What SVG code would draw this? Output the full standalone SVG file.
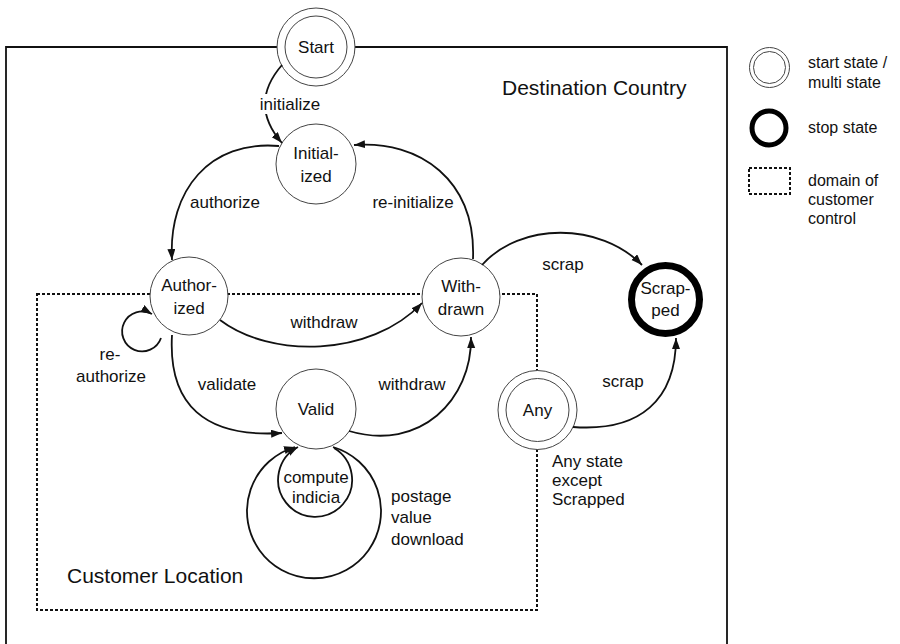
<svg xmlns="http://www.w3.org/2000/svg" width="900" height="644" viewBox="0 0 900 644">
  <style>
    text { font-family: "Liberation Sans", Arial, sans-serif; fill: #111; }
    .node { font-size: 17px; text-anchor: middle; }
    .lbl { font-size: 17px; }
    .mid { text-anchor: middle; }
    .area { font-size: 21px; }
    .legend { font-size: 16px; }
    .state { fill: #fff; stroke: #444; stroke-width: 1; }
    .stop { fill: #fff; stroke: #000; stroke-width: 7; }
    .frame { fill: none; stroke: #111; stroke-width: 1.8; }
    .domain { fill: none; stroke: #111; stroke-width: 2; stroke-dasharray: 3 2; }
    .edge { fill: none; stroke: #111; stroke-width: 1.8; marker-end: url(#arrow); }
  </style>
  <defs>
    <marker id="arrow" markerUnits="userSpaceOnUse" markerWidth="12" markerHeight="10" refX="11" refY="4" orient="auto">
      <path d="M0,0 L11,4 L0,8 Z" fill="#111"/>
    </marker>
  </defs>

  <rect width="900" height="644" fill="#fff"/>

  <!-- Destination country frame (open at the bottom) -->
  <path class="frame" d="M6,650 V47 H727 V650"/>
  <text class="area" x="502" y="95">Destination Country</text>

  <!-- Customer domain -->
  <path class="domain" d="M37,294 H537 V610 H37 Z"/>
  <text class="area" x="67" y="583">Customer Location</text>

  <!-- States -->
  <g id="start">
    <circle class="state" cx="316" cy="47" r="39"/>
    <circle class="state" cx="316" cy="47" r="31"/>
    <text class="node" x="316" y="53">Start</text>
  </g>
  <g id="initialized">
    <circle class="state" cx="316" cy="164" r="40"/>
    <text class="node" x="316" y="159">Initial-</text>
    <text class="node" x="316" y="182">ized</text>
  </g>
  <g id="authorized">
    <circle class="state" cx="189" cy="296" r="39"/>
    <text class="node" x="189" y="291">Author-</text>
    <text class="node" x="189" y="314">ized</text>
  </g>
  <g id="withdrawn">
    <circle class="state" cx="461" cy="297" r="39"/>
    <text class="node" x="461" y="292">With-</text>
    <text class="node" x="461" y="315">drawn</text>
  </g>
  <g id="scrapped">
    <circle class="stop" cx="665.5" cy="299.5" r="34"/>
    <text class="node" x="665.5" y="294">Scrap-</text>
    <text class="node" x="665.5" y="316">ped</text>
  </g>
  <g id="valid">
    <circle class="state" cx="316" cy="409" r="40"/>
    <text class="node" x="316" y="415">Valid</text>
  </g>
  <g id="any">
    <circle class="state" cx="537.5" cy="410" r="39.5"/>
    <circle class="state" cx="537.5" cy="410" r="31.5"/>
    <text class="node" x="537.5" y="416">Any</text>
    <text class="lbl" x="552" y="467">Any state</text>
    <text class="lbl" x="552" y="486">except</text>
    <text class="lbl" x="552" y="505">Scrapped</text>
  </g>

  <!-- Transitions -->
  <g id="connectors">
    <path class="edge" d="M282,65 Q248,104 282,143"/>
    <path class="edge" d="M279,146 C210,140 168,190 172,260"/>
    <path class="edge" d="M473,259 C476,180 420,140 354,145"/>
    <path class="edge" d="M482,265 C520,222 600,222 642,265"/>
    <path class="edge" d="M220,320 C270,358 370,358 422,303"/>
    <path class="edge" d="M172,335 C168,405 205,438 282,433"/>
    <path class="edge" d="M349,431 C420,452 472,400 471,337"/>
    <path class="edge" d="M573,427 C640,432 676,400 676,338"/>
    <path class="edge" d="M161,338 A20,20 0 1 1 152,314"/>
    <path class="edge" d="M334,448 A37,37 0 1 1 298,447"/>
    <path class="edge" d="M333,447 A67,67 0 1 1 295,447"/>
  </g>

  <!-- Transition labels -->
  <rect x="257" y="94" width="66" height="20" fill="#fff"/>
  <text class="lbl mid" x="290" y="110">initialize</text>
  <text class="lbl mid" x="225" y="208">authorize</text>
  <text class="lbl mid" x="413" y="208">re-initialize</text>
  <text class="lbl mid" x="563" y="270">scrap</text>
  <text class="lbl mid" x="324" y="328">withdraw</text>
  <text class="lbl mid" x="227" y="390">validate</text>
  <text class="lbl mid" x="412" y="390">withdraw</text>
  <text class="lbl mid" x="623" y="387">scrap</text>
  <text class="lbl mid" x="110" y="360">re-</text>
  <text class="lbl mid" x="111" y="382">authorize</text>
  <text class="lbl mid" x="316" y="483">compute</text>
  <text class="lbl mid" x="316" y="503">indicia</text>
  <text class="lbl" x="391" y="502">postage</text>
  <text class="lbl" x="391" y="523">value</text>
  <text class="lbl" x="391" y="545">download</text>

  <!-- Legend -->
  <g id="legend">
    <circle class="state" cx="769.5" cy="67.5" r="20"/>
    <circle class="state" cx="769.5" cy="67.5" r="16"/>
    <text class="legend" x="808" y="68">start state /</text>
    <text class="legend" x="808" y="88">multi state</text>
    <circle fill="none" stroke="#000" stroke-width="5" cx="769" cy="128" r="17"/>
    <text class="legend" x="808" y="133">stop state</text>
    <rect class="domain" x="749" y="168" width="41" height="26"/>
    <text class="legend" x="808" y="186">domain of</text>
    <text class="legend" x="808" y="205">customer</text>
    <text class="legend" x="808" y="224">control</text>
  </g>
</svg>
